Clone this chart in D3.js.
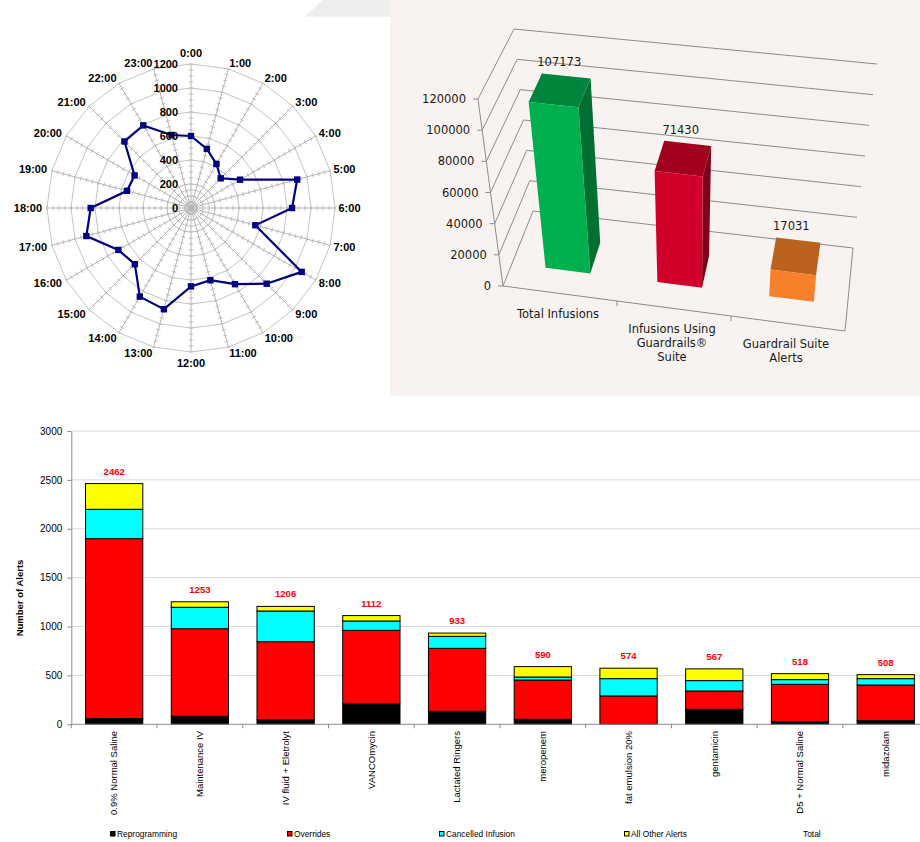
<!DOCTYPE html>
<html><head><meta charset="utf-8">
<script src="https://cdn.jsdelivr.net/npm/d3@7"></script>
<style>body{margin:0;background:#fff}svg{display:block}</style>
</head><body>
<svg id="c" width="920" height="842"></svg>
<script>
// ---------------- DATA ----------------
// Radar: alerts by hour of day
const hours = ["0:00","1:00","2:00","3:00","4:00","5:00","6:00","7:00","8:00","9:00","10:00","11:00",
  "12:00","13:00","14:00","15:00","16:00","17:00","18:00","19:00","20:00","21:00","22:00","23:00"];
const hourValues = [600,510,424,350,472,916,842,555,1065,892,733,623,653,873,853,662,699,903,836,552,543,784,795,630];
const radarTicks = [0,200,400,600,800,1000,1200];

// 3D bar: infusions
const infCategories = ["Total Infusions","Infusions Using Guardrails® Suite","Guardrail Suite Alerts"];
const infLabelLines = [["Total Infusions"],["Infusions Using","Guardrails®","Suite"],["Guardrail Suite","Alerts"]];
const infValues = [107173,71430,17031];
const infTicks = [0,20000,40000,60000,80000,100000,120000];
const infFront = ["#00b04f","#d1002b","#f6812a"];
const infTop = ["#00853c","#a1001f","#bb621f"];
const infSide = ["#006f31","#7d0018","#9a4f18"];

// Stacked bar: alerts by drug
const drugs = ["0.9% Normal Saline","Maintenance IV","IV fluid + Eletrolyt","VANCOmycin","Lactated Ringers",
  "meropenem","fat emulsion 20%","gentamicin","D5 + Normal Saline","midazolam"];
const reprogramming = [58,82,48,208,133,51,0,153,27,37];
const overrides = [1841,896,797,753,644,402,290,188,382,365];
const cancelledInfusion = [300,219,314,96,123,31,177,106,48,65];
const allOtherAlerts = [263,56,47,55,33,106,107,120,61,41];
const totals = [2462,1253,1206,1112,933,590,574,567,518,508];
const seriesNames = ["Reprogramming","Overrides","Cancelled Infusion","All Other Alerts","Total"];
const seriesColors = ["#000000","#ff0000","#00ffff","#ffff00",null];
const alertTicks = [0,500,1000,1500,2000,2500,3000];

// ---------------- DRAW ----------------
const svg = d3.select("#c");
const SANS = "'Liberation Sans', Arial, sans-serif";

// ===== Radar =====
(function(){
  const cx = 191, cy = 208, R = 144;
  const r = d3.scaleLinear().domain([0,1200]).range([0,R]);
  const ang = d3.scaleLinear().domain([0,hours.length]).range([0,2*Math.PI]);
  const g = svg.append("g").attr("transform",`translate(${cx},${cy})`);
  const pt = (a,rr)=>[rr*Math.sin(a), -rr*Math.cos(a)];
  radarTicks.slice(1).forEach(t=>{
    g.append("path").attr("d", d3.line()(hours.map((h,i)=>pt(ang(i), r(t))))+"Z")
      .attr("fill","none").attr("stroke","#c4c4c4").attr("stroke-width",1);
  });
  hours.forEach((h,i)=>{
    const a = ang(i), e = pt(a,R);
    g.append("line").attr("x1",0).attr("y1",0).attr("x2",e[0]).attr("y2",e[1])
      .attr("stroke","#b4b4b4").attr("stroke-width",1);
    d3.range(50,1201,50).forEach(t=>{
      const p = pt(a,r(t)), px = Math.cos(a)*2.2, py = Math.sin(a)*2.2;
      g.append("line").attr("x1",p[0]-px).attr("y1",p[1]-py).attr("x2",p[0]+px).attr("y2",p[1]+py)
        .attr("stroke","#b8b8b8").attr("stroke-width",0.9);
    });
  });
  const line = d3.lineRadial().angle((d,i)=>ang(i)).radius(d=>r(d)).curve(d3.curveLinearClosed);
  g.append("path").attr("d", line(hourValues)).attr("fill","none")
    .attr("stroke","#000080").attr("stroke-width",2.2);
  g.selectAll("rect.m").data(hourValues).enter().append("rect")
    .attr("x",(d,i)=>pt(ang(i),r(d))[0]-3.2).attr("y",(d,i)=>pt(ang(i),r(d))[1]-3.2)
    .attr("width",6.4).attr("height",6.4).attr("fill","#000080");
  g.selectAll("text.v").data(radarTicks).enter().append("text")
    .attr("x",-13).attr("y",d=>-r(d)).attr("dy","0.36em").attr("text-anchor","end")
    .attr("font-family",SANS).attr("font-size",11).attr("font-weight","bold").text(d=>d);
  hours.forEach((h,i)=>{
    const a = ang(i), s = Math.sin(a), c = Math.cos(a);
    let anchor = "middle", x = 0, y = -(R+11)*c;
    if (s > 0.05) { anchor = "start"; x = (R+3.5)*s; y = -(R+6)*c; }
    else if (s < -0.05) { anchor = "end"; x = (R+5)*s; y = -(R+6)*c; }
    g.append("text").attr("x",x).attr("y",y).attr("dy","0.36em").attr("text-anchor",anchor)
      .attr("font-family",SANS).attr("font-size",11).attr("font-weight","bold").text(h);
  });
})();

// ===== 3D bar chart =====
(function(){
  svg.append("path").attr("d","M322.7,0L390,0L390,16.7L305,16.7Z").attr("fill","#eeeeee");
  svg.append("rect").attr("x",390).attr("y",0).attr("width",530).attr("height",396).attr("fill","#f8f3f0");
  const FONT = "'DejaVu Sans', Verdana, sans-serif";
  const C = {FL0:[503,286],FL1:[478,99],BL0:[533,211],BL1:[514,29],
             BR0:[853,248],BR1:[877,64],FR0:[845,331],FR1:[863,142]};
  const camU = 0.75; // horizontal eye position across the floor (side faces right of it are hidden)
  const lerp = (a,b,t)=>[a[0]+(b[0]-a[0])*t, a[1]+(b[1]-a[1])*t];
  const vS = d3.scaleLinear().domain([0,120000]).range([0,1]);
  const uS = d3.scaleBand().domain(infCategories).range([0,1]).paddingInner(0.6).paddingOuter(0.3);
  function P(u,val,w){
    const v = vS(val);
    const F = lerp(lerp(C.FL0,C.FL1,v), lerp(C.FR0,C.FR1,v), u);
    const B = lerp(lerp(C.BL0,C.BL1,v), lerp(C.BR0,C.BR1,v), u);
    return lerp(F,B,w);
  }
  const g = svg.append("g");
  const poly = pts => "M"+pts.map(p=>p[0].toFixed(2)+","+p[1].toFixed(2)).join("L")+"Z";
  const pl = pts => "M"+pts.map(p=>p[0].toFixed(2)+","+p[1].toFixed(2)).join("L");
  const axisCol = "#8c8c8c";
  infTicks.forEach(t=>{
    g.append("path").attr("d", pl([P(0,t,0),P(0,t,1),P(1,t,1)]))
      .attr("fill","none").attr("stroke",axisCol).attr("stroke-width",1);
    const a = P(0,t,0);
    g.append("line").attr("x1",a[0]-5).attr("y1",a[1]).attr("x2",a[0]).attr("y2",a[1])
      .attr("stroke",axisCol);
    g.append("text").attr("x",a[0]-12).attr("y",a[1]).attr("dy","0.36em").attr("text-anchor","end")
      .attr("font-family",FONT).attr("font-size",11.5).attr("fill","#1a1a1a").text(t);
  });
  g.append("path").attr("d", pl([P(0,120000,0),P(0,0,0),P(1,0,0),P(1,0,1)]))
    .attr("fill","none").attr("stroke",axisCol).attr("stroke-width",1);
  [1,2].forEach(k=>{
    const a = P(k/3,0,0);
    g.append("line").attr("x1",a[0]).attr("y1",a[1]).attr("x2",a[0]).attr("y2",a[1]+5).attr("stroke",axisCol);
  });
  const w0 = 0.3, w1 = 0.7;
  infCategories.forEach((cat,i)=>{
    const u0 = uS(cat), u1 = u0 + uS.bandwidth(), val = infValues[i];
    if (u1 < camU) {
      g.append("path").attr("d", poly([P(u1,0,w0),P(u1,0,w1),P(u1,val,w1),P(u1,val,w0)])).attr("fill",infSide[i]);
    }
    g.append("path").attr("d", poly([P(u0,val,w0),P(u1,val,w0),P(u1,val,w1),P(u0,val,w1)])).attr("fill",infTop[i]);
    g.append("path").attr("d", poly([P(u0,0,w0),P(u1,0,w0),P(u1,val,w0),P(u0,val,w0)])).attr("fill",infFront[i]);
    const lp = P(u0+uS.bandwidth()/2, val, 0.7);
    g.append("text").attr("x",lp[0]-7).attr("y",lp[1]-14).attr("dy","0.36em").attr("text-anchor","middle")
      .attr("font-family",FONT).attr("font-size",11.5).attr("fill","#1a1a1a").text(val);
    const cp = P(u0+uS.bandwidth()/2, 0, 0);
    infLabelLines[i].forEach((ln,j)=>{
      g.append("text").attr("x",cp[0]-2).attr("y",cp[1]+20+j*14).attr("dy","0.36em").attr("text-anchor","middle")
        .attr("font-family",FONT).attr("font-size",11.5).attr("fill","#1a1a1a").text(ln);
    });
  });
})();

// ===== Stacked bar chart =====
(function(){
  const x = d3.scaleBand().domain(drugs).range([71.3,928.6]).paddingInner(0.332).paddingOuter(0.166);
  const y = d3.scaleLinear().domain([0,3000]).range([724.3,431]);
  const g = svg.append("g");
  alertTicks.slice(1).forEach(t=>{
    g.append("line").attr("x1",71.3).attr("x2",920).attr("y1",y(t)).attr("y2",y(t))
      .attr("stroke","#d9d9d9").attr("stroke-width",1);
  });
  const ya = g.append("g").attr("transform","translate(71.3,0)")
    .call(d3.axisLeft(y).tickValues(alertTicks).tickFormat(d3.format("d")).tickSize(4).tickSizeOuter(0).tickPadding(5));
  ya.select(".domain").attr("stroke","#8c8c8c");
  ya.selectAll(".tick line").attr("stroke","#8c8c8c");
  ya.selectAll("text").attr("font-family",SANS).attr("font-size",10).attr("fill","#000");
  const rows = drugs.map((d,i)=>({drug:d, r:reprogramming[i], o:overrides[i], c:cancelledInfusion[i], a:allOtherAlerts[i]}));
  const stack = d3.stack().keys(["r","o","c","a"])(rows);
  stack.forEach((layer,k)=>{
    g.selectAll(null).data(layer).enter().append("rect")
      .attr("x",d=>x(d.data.drug)).attr("width",x.bandwidth())
      .attr("y",d=>y(d[1])).attr("height",d=>y(d[0])-y(d[1]))
      .attr("fill",seriesColors[k]).attr("stroke","#000").attr("stroke-width",1);
  });
  g.append("line").attr("x1",71.3).attr("x2",920).attr("y1",y(0)).attr("y2",y(0)).attr("stroke","#8c8c8c");
  d3.range(drugs.length+1).forEach(k=>{
    const xx = 71.3 + k*x.step();
    g.append("line").attr("x1",xx).attr("x2",xx).attr("y1",y(0)).attr("y2",y(0)+4).attr("stroke","#8c8c8c");
  });
  g.selectAll(null).data(totals).enter().append("text")
    .attr("x",(d,i)=>x(drugs[i])+x.bandwidth()/2).attr("y",d=>y(d)-9)
    .attr("text-anchor","middle").attr("font-family",SANS).attr("font-size",9.5).attr("font-weight","bold")
    .attr("fill","#ff0000").text(d=>d);
  drugs.forEach(d=>{
    g.append("text").attr("transform",`translate(${x(d)+x.bandwidth()/2},731) rotate(-90)`)
      .attr("text-anchor","end").attr("dy","0.35em").attr("font-family",SANS).attr("font-size",9.5)
      .attr("fill","#000").text(d);
  });
  g.append("text").attr("transform","translate(20,598) rotate(-90)").attr("text-anchor","middle")
    .attr("dy","0.35em").attr("font-family",SANS).attr("font-size",9.5).attr("font-weight","bold").text("Number of Alerts");
  const legendX = [110,287,439,624,797];
  seriesNames.forEach((s,k)=>{
    if (seriesColors[k]) {
      g.append("rect").attr("x",legendX[k]+0.5).attr("y",831.5).attr("width",4.5).attr("height",4.5)
        .attr("fill",seriesColors[k]).attr("stroke","#000").attr("stroke-width",1);
    }
    g.append("text").attr("x",legendX[k]+(seriesColors[k]?7:6)).attr("y",834).attr("dy","0.35em")
      .attr("font-family",SANS).attr("font-size",8.4).attr("fill","#000").text(s);
  });
})();
</script>
</body></html>
